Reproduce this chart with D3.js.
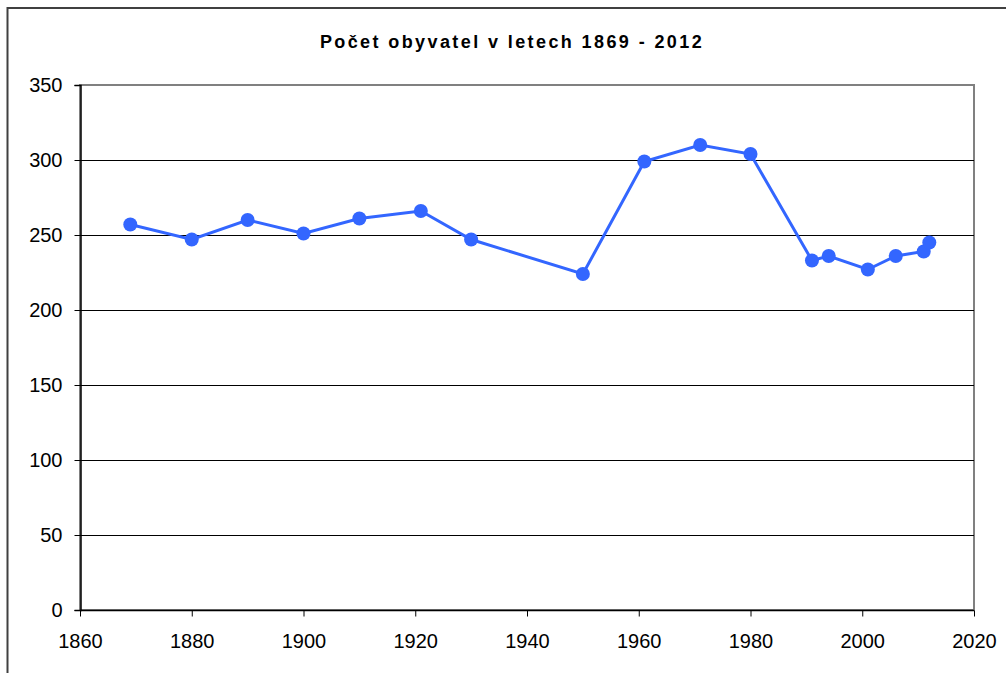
<!DOCTYPE html>
<html>
<head>
<meta charset="utf-8">
<script src="https://cdnjs.cloudflare.com/ajax/libs/d3/7.8.5/d3.min.js"></script>
<style>
  body { margin: 0; background: #fff; }
  svg text { font-family: "Liberation Sans", Arial, sans-serif; }
</style>
</head>
<body>
<div id="chart"></div>
<script>
// Data: population by census year
var years = [1869, 1880, 1890, 1900, 1910, 1921, 1930, 1950, 1961, 1971, 1980, 1991, 1994, 2001, 2006, 2011, 2012];
var population = [257, 247, 260, 251, 261, 266, 247, 224, 299, 310, 304, 233, 236, 227, 236, 239, 245];
var xTicks = [1860, 1880, 1900, 1920, 1940, 1960, 1980, 2000, 2020];
var yTicks = [0, 50, 100, 150, 200, 250, 300, 350];
var title = "Počet obyvatel v letech 1869 - 2012";

var width = 1006, height = 673;
var plot = {left: 80, top: 85, right: 974, bottom: 610};

var svg = d3.select("#chart").append("svg")
    .attr("width", width)
    .attr("height", height);

// outer frame (cut off at right/bottom)
svg.append("rect")
    .attr("x", 7.5).attr("y", 8)
    .attr("width", 1010).attr("height", 680)
    .attr("fill", "none")
    .attr("stroke", "#404040")
    .attr("stroke-width", 2);

svg.append("text")
    .attr("x", 512).attr("y", 48)
    .attr("text-anchor", "middle")
    .style("font-size", "18px")
    .style("font-weight", "bold")
    .style("letter-spacing", "2.4px")
    .text(title);

var x = d3.scaleLinear().domain([1860, 2020]).range([plot.left, plot.right]);
var y = d3.scaleLinear().domain([0, 350]).range([plot.bottom, plot.top]);

// plot border
svg.append("rect")
    .attr("x", plot.left).attr("y", plot.top)
    .attr("width", plot.right - plot.left)
    .attr("height", plot.bottom - plot.top)
    .attr("fill", "none")
    .attr("stroke", "#808080")
    .attr("stroke-width", 2);

// gridlines
svg.append("g").selectAll("line")
    .data(yTicks.filter(function (d) { return d > 0 && d < 350; }))
    .enter().append("line")
    .attr("x1", plot.left).attr("x2", plot.right)
    .attr("y1", function (d) { return Math.round(y(d)) + 0.5; })
    .attr("y2", function (d) { return Math.round(y(d)) + 0.5; })
    .attr("stroke", "#000")
    .attr("stroke-width", 1);

var yAxis = svg.append("g")
    .attr("transform", "translate(" + (plot.left + 0.5) + ",0)")
    .call(d3.axisLeft(y).tickValues(yTicks).tickSize(6).tickPadding(12));

var xAxis = svg.append("g")
    .attr("transform", "translate(0," + (plot.bottom + 0.5) + ")")
    .call(d3.axisBottom(x).tickValues(xTicks).tickFormat(d3.format("d")).tickSize(6).tickPadding(17));

[yAxis, xAxis].forEach(function (a) {
    a.select(".domain").attr("stroke", "#000").attr("stroke-width", 1.5);
    a.selectAll(".tick line").attr("stroke", "#000");
    a.selectAll("text")
        .style("font-size", "20px")
        .style("font-family", "'Liberation Sans', Arial, sans-serif")
        .attr("fill", "#000");
});
xAxis.select(".domain").attr("d", "M" + plot.left + ",0H" + plot.right);

var pts = years.map(function (d, i) { return [d, population[i]]; });

var line = d3.line()
    .x(function (d) { return x(d[0]); })
    .y(function (d) { return y(d[1]); });

svg.append("path")
    .datum(pts)
    .attr("d", line)
    .attr("fill", "none")
    .attr("stroke", "#3366ff")
    .attr("stroke-width", 3);

svg.append("g").selectAll("circle")
    .data(pts)
    .enter().append("circle")
    .attr("cx", function (d) { return x(d[0]); })
    .attr("cy", function (d) { return y(d[1]); })
    .attr("r", 7)
    .attr("fill", "#3366ff");
</script>
</body>
</html>
